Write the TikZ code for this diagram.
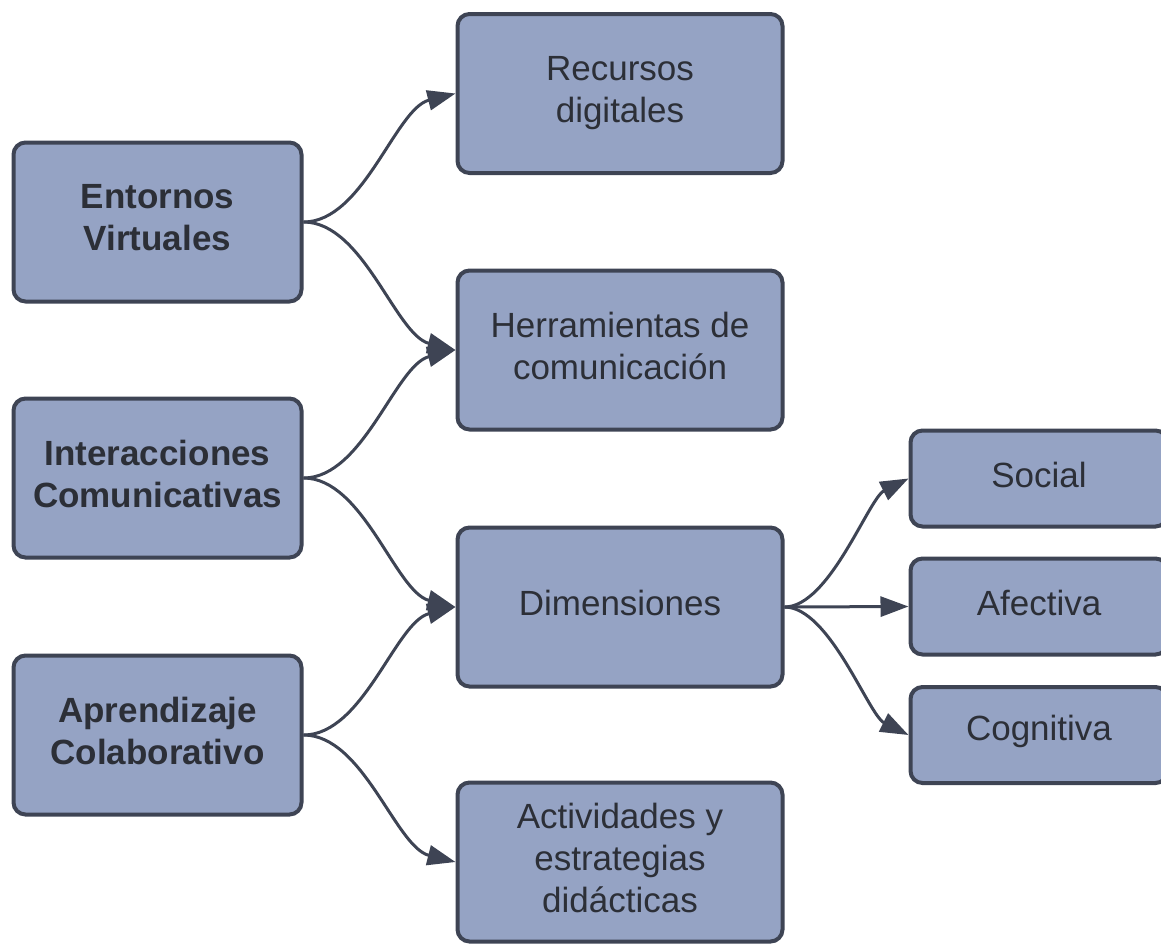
\documentclass[tikz,border=0pt]{standalone}
\usepackage{fontspec}
\setmainfont{Liberation Sans}
\usetikzlibrary{arrows.meta}
\definecolor{boxfill}{HTML}{95A3C4}
\definecolor{boxline}{HTML}{3E4454}
\definecolor{txt}{HTML}{2C2F37}
\tikzset{
  box/.style={draw=boxline, fill=boxfill, line width=4pt, rounded corners=12pt,
    inner sep=0pt},
  lbl0/.style={align=center, text=txt, inner sep=0pt, font=\fontsize{35}{42}\selectfont},
  lbl/.style={lbl0, yshift=4pt},
  blbl/.style={lbl, font=\fontsize{35}{42}\selectfont\bfseries},
  leftbox/.style={box, minimum width=288pt, minimum height=159pt},
  midbox/.style={box, minimum width=325pt, minimum height=159pt},
  rightbox/.style={box, minimum width=257pt, minimum height=96pt},
  conn/.style={draw=boxline, line width=3pt, -{Triangle[length=28pt,width=20pt]}}
}
\begin{document}
\begin{tikzpicture}[x=1pt,y=-1pt]
\useasboundingbox (0,0) rectangle (1161,943);
\clip (0,0) rectangle (1161,943);
\node[leftbox, label={[blbl]center:{Entornos\\Virtuales}}] (ent) at (157.5,222) {};
\node[leftbox, label={[blbl]center:{Interacciones\\Comunicativas}}] (int) at (157.5,478) {};
\node[leftbox, label={[blbl]center:{Aprendizaje\\Colaborativo}}] (apr) at (157.5,735) {};
\node[midbox, label={[lbl0]center:{Recursos\\digitales}}] (rec) at (620,93.5) {};
\node[midbox, label={[lbl]center:{Herramientas de\\comunicación}}] (her) at (620,350) {};
\node[midbox, label={[lbl]center:{Dimensiones}}] (dim) at (620,607) {};
\node[midbox, label={[lbl]center:{Actividades y\\estrategias\\didácticas}}] (act) at (620,862) {};
\node[rightbox, label={[lbl]center:{Social}}] (soc) at (1039,478.5) {};
\node[rightbox, label={[lbl]center:{Afectiva}}] (afe) at (1039,606.5) {};
\node[rightbox, label={[lbl]center:{Cognitiva}}] (cog) at (1039,735) {};
\draw[conn] (ent.east) .. controls +(60,0) and +(-60,15) .. (rec.west);
\draw[conn] (ent.east) .. controls +(60,0) and +(-60,-15) .. (her.west);
\draw[conn] (int.east) .. controls +(60,0) and +(-60,15) .. (her.west);
\draw[conn] (int.east) .. controls +(60,0) and +(-60,-15) .. (dim.west);
\draw[conn] (apr.east) .. controls +(60,0) and +(-60,15) .. (dim.west);
\draw[conn] (apr.east) .. controls +(60,0) and +(-60,-15) .. (act.west);
\draw[conn] (dim.east) .. controls +(45,0) and +(-40,20) .. (soc.west);
\draw[conn] (dim.east) -- (afe.west);
\draw[conn] (dim.east) .. controls +(45,0) and +(-40,-20) .. (cog.west);
\end{tikzpicture}
\end{document}
